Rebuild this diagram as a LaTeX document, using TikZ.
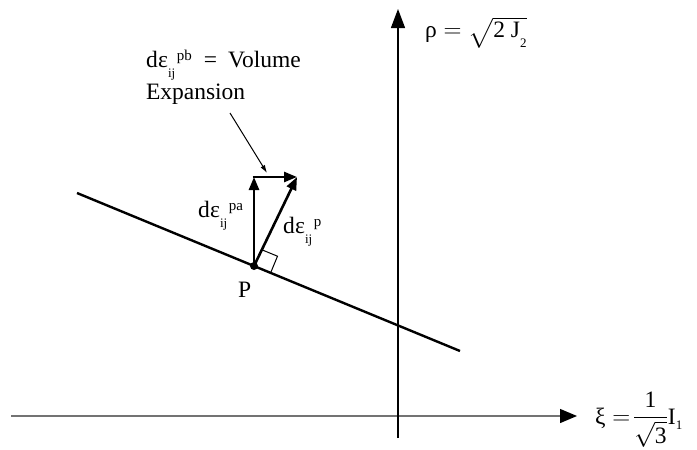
\documentclass[tikz,border=0pt]{standalone}
\usepackage{amsmath}
\usepackage{fontspec}
\setmainfont{Liberation Serif}
\usetikzlibrary{arrows.meta,calc}
\newcommand{\scr}[1]{{\fontsize{13}{13}\selectfont #1}}
\newcommand{\sups}[1]{{\fontsize{15}{15}\selectfont #1}}
\newcommand{\dE}[1]{d\kern0.5pt ε\raisebox{-10pt}{\scr{ij}}\kern1.5pt\raisebox{7pt}{\sups{#1}}}
\begin{document}
\begin{tikzpicture}[x=1pt,y=-1pt,
  lbl/.style={font=\fontsize{23.5}{32}\selectfont, inner sep=0pt, outer sep=0pt},
  vaxis/.style={line width=1.3pt, black, -{Triangle[length=19pt,width=14pt]}},
  haxis/.style={line width=1.3pt, black!55, -{Triangle[length=17pt,width=14pt,fill=black,color=black]}},
  vec/.style={line width=2.6pt, -{Triangle[length=13pt,width=10pt]}},
  plane/.style={line width=2.4pt},
  pointer/.style={line width=1pt, -{Latex[length=8pt,width=5pt]}},
  rightangle/.style={line width=1pt}]
\useasboundingbox (0,0) rectangle (697,450);

% axes
\coordinate (hs) at (11,416);
\coordinate (he) at (577,416);
\coordinate (vs) at (398,438);
\coordinate (ve) at (398,9);
\draw[haxis] (hs) -- (he);
\draw[vaxis] (vs) -- (ve);

% yield-surface line
\coordinate (L1) at (77,193);
\coordinate (L2) at (460,351);
\draw[plane] (L1) -- (L2);

% point P and vectors
\coordinate (P) at (254,266);
\coordinate (A) at (254,177);
\coordinate (B) at (297,177);
\draw[vec] (P) -- (A);
\draw[vec, shorten <=-1.3pt] (A) -- (B);
\draw[vec] (P) -- (B);
\fill (P) circle (4pt);

% right angle marker
\coordinate (ra1) at (270.6,272.9);
\coordinate (ra2) at (277.5,256.2);
\coordinate (ra3) at (260.9,249.4);
\draw[rightangle] (ra1) -- (ra2) -- (ra3);

% pointer
\coordinate (ps) at (230,113);
\coordinate (pe) at (267,173);
\draw[pointer] (ps) -- (pe);

% labels
\node[lbl, anchor=north west, align=left] (top) at (146,50) {\dE{pb}\hspace{12pt}=\hspace{11pt}Volume\\Expansion};
\node[lbl, anchor=base west] (pa) at (198,217) {\dE{pa}};
\node[lbl, anchor=base west] (p) at (283,233) {\dE{p}};
\node[lbl, anchor=base west] (Plbl) at (238,297) {P};
\node[lbl, anchor=base west] (rho) at (425,37) {$\hbox{ρ} = \sqrt{\hbox{2 J\raisebox{-10pt}{\scr{2}}}}$};
\node[lbl, anchor=base west] (xi) at (595,424) {$\hbox{ξ} =\! \dfrac{\hbox{1}}{\sqrt{\hbox{3}}}\hbox{I\raisebox{-5pt}{\scr{1}}}$};
\end{tikzpicture}
\end{document}
